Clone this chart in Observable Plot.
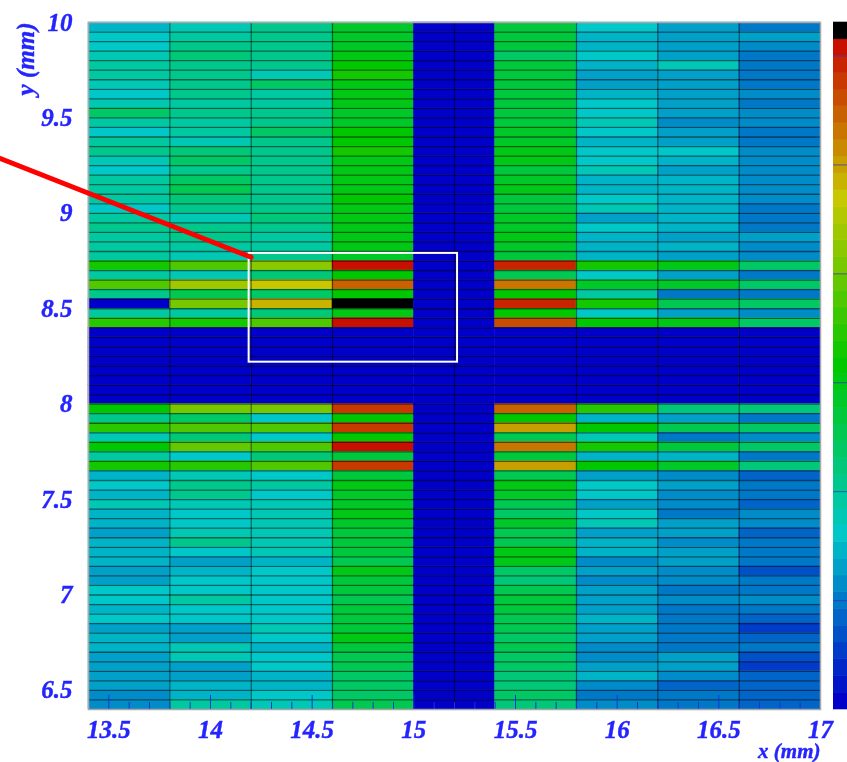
<!DOCTYPE html>
<html>
<head>
<meta charset="utf-8">
<script src="https://cdn.jsdelivr.net/npm/d3@7"></script>
<script src="https://cdn.jsdelivr.net/npm/@observablehq/plot@0.6"></script>
<style>
html,body{margin:0;padding:0;background:#fff;overflow:hidden;width:847px;height:762px}
#wrap{position:relative;width:847px;height:762px}
#wrap svg{position:absolute;top:0;filter:blur(0.65px);overflow:hidden}
#wrap text{stroke:#2424ff;stroke-width:0.4px}
</style>
</head>
<body>
<div id="wrap"></div>
<script>
// Column edges (mm) and row size (mm)
const xEdges = [13.4,13.8,14.2,14.6,15,15.2,15.4,15.8,16.2,16.6,17];
const yTop = 10, rowStep = 0.05;
// Colour level of each cell, top row first, one list per column
const col0 = [9,10,10,11,12,12,11,10,11,15,12,10,12,13,11,10,12,12,12,10,12,13,12,12,12, 21,12,24,13,0,12,22, 0,0,0,0,0,0,0,0, 20,13,22,11,20,12,21,9,10,9,11, 9,9,8,9,9,9,8,8,10,10,9,10,8,9,9,8,8,8,8,7,7];
const col1 = [11,12,13,14,13,13,13,13,12,13,12,12,11,14,15,13,15,16,14,13,11,13,13,12,11, 24,11,28,16,26,12,21, 0,0,0,0,0,0,0,0, 26,15,24,14,25,10,22,11,13,13,11, 10,10,11,13,10,8,9,10,10,12,10,10,8,8,11,11,8,8,9,9,12];
const col2 = [13,13,13,13,13,11,15,12,12,13,13,15,13,13,13,13,13,13,13,13,14,13,12,12,13, 27,14,30,15,31,14,24, 0,0,0,0,0,0,0,0, 26,10,24,10,24,14,24,10,12,10,11, 11,11,11,11,11,9,10,10,10,10,10,10,11,10,9,10,10,9,9,10,11];
const col3 = [18,18,18,19,20,21,19,19,19,18,18,20,20,21,19,19,19,19,20,19,19,19,19,19,18, 39,20,35,20,40,19,39, 0,0,0,0,0,0,0,0, 37,20,37,20,39,17,37,17,19,18,18, 19,18,17,17,17,16,19,17,17,16,17,17,17,19,17,16,16,15,15,15,16];
const col4 = new Array(72).fill(0);
const col5 = new Array(72).fill(0);
const col6 = [17,17,17,15,17,17,17,17,17,17,17,18,18,19,19,17,18,19,17,17,18,18,19,18,17, 38,16,34,20,38,20,36, 0,0,0,0,0,0,0,0, 35,20,32,16,34,17,32,16,19,18,16, 15,18,16,16,19,19,15,14,16,17,17,16,16,15,16,15,15,14,14,15,14];
const col7 = [10,9,9,10,9,8,8,9,10,10,11,10,9,10,10,11,9,9,10,11,8,10,9,9,9, 21,10,18,12,21,10,20, 0,0,0,0,0,0,0,0, 22,9,20,11,21,9,20,8,10,10,8, 10,11,8,9,9,7,8,7,8,8,8,9,8,8,7,7,8,9,7,6,7];
const col8 = [8,8,8,8,11,8,8,8,8,8,7,8,8,10,9,8,9,9,9,9,9,9,8,9,8, 19,8,18,6,16,8,19, 0,0,0,0,0,0,0,0, 14,8,16,6,17,9,18,7,8,7,7, 6,8,8,7,8,8,7,7,6,7,6,6,6,6,6,8,8,7,5,6,6];
const col9 = [6,8,7,6,6,6,6,7,6,7,7,6,6,7,7,7,7,7,7,6,6,6,8,7,7, 15,6,15,6,15,7,15, 0,0,0,0,0,0,0,0, 14,6,15,7,15,6,14,5,6,6,5, 7,7,5,6,6,6,4,6,6,7,6,5,3,5,6,4,3,5,5,5,5];
const columns = [col0,col1,col2,col3,col4,col5,col6,col7,col8,col9];
// Axis ticks
const xLabels = [13.5,14,14.5,15,15.5,16,16.5,17];
const yLabels = [6.5,7,7.5,8,8.5,9,9.5,10];
const xMinor = [13.6,13.7,13.8,13.9,14.1,14.2,14.3,14.4,14.6,14.7,14.8,14.9,15.1,15.2,15.3,15.4,15.6,15.7,15.8,15.9,16.1,16.2,16.3,16.4,16.6,16.7,16.8,16.9];
const colGridLines = [13.8,14.2,14.6,15.2,15.8,16.2,16.6];
// Overlay annotation, in mm
const zoomBox = {x1:14.19, x2:15.215, y1:8.22, y2:8.79};
const pointerX = [12.96,14.2];
const pointerY = [9.29,8.77];
// Colour bar
const barTicks = [6.5,13,19.5,26,32.5,39];
const paletteStops = ["#0000c8","#00c8c8","#00c800","#c8c800","#c81000"];
const paletteLevels = [0,10,20,30,39];

const levelColor = d3.scaleLinear().domain(paletteLevels).range(paletteStops);
const palette = d3.range(40).map(l => levelColor(l)).concat(["#000000"]);
const thresholds = d3.range(1,41);
const cells = [];
columns.forEach((col,c) => col.forEach((v,r) => cells.push({
  x1:xEdges[c], x2:xEdges[c+1], y2:yTop-r*rowStep, y1:yTop-(r+1)*rowStep, v
})));
const rowLines = d3.range(1,72).map(r => yTop-r*rowStep);
const blue = "#2424ff";
const font = {fontFamily:"'Liberation Serif',serif",fontStyle:"italic",fontWeight:"bold",fontSize:"25px"};

const chart = Plot.plot({
  width:847, height:762,
  marginLeft:88, marginRight:27, marginTop:22, marginBottom:53,
  style:{background:"transparent",...font},
  x:{domain:[13.4,17]},
  y:{domain:[6.4,10]},
  color:{type:"threshold",domain:thresholds,range:palette},
  marks:[
    Plot.rect(cells,{x1:"x1",x2:"x2",y1:"y1",y2:"y2",fill:"v",stroke:"v",strokeWidth:0.5}),
    Plot.ruleY(rowLines,{stroke:"#000",strokeOpacity:0.5,strokeWidth:1.3}),
    Plot.ruleX(colGridLines,{stroke:"#000",strokeOpacity:0.5,strokeWidth:1.2}),
    Plot.ruleX(xLabels,{y1:6.4,y2:6.473,stroke:"#1a30e0",strokeWidth:1}),
    Plot.ruleX(xMinor,{y1:6.4,y2:6.437,stroke:"#1a30e0",strokeWidth:1}),
    Plot.frame({stroke:"#a8a8a8",strokeWidth:1.5}),
    Plot.axisX(xLabels,{tickSize:0,tickPadding:11,label:null,fill:blue,tickFormat:d=>String(d),textAnchor:"middle",fontSize:25}),
    Plot.axisY(yLabels,{tickSize:0,tickPadding:16,label:null,fill:blue,tickFormat:d=>String(d),fontSize:25}),
    Plot.text(["x (mm)"],{x:[17],y:[6.4],dy:42,textAnchor:"end",fill:blue,fontSize:21}),
    Plot.text(["y (mm)"],{x:[13.4],y:[10],dx:-63,textAnchor:"end",rotate:-90,fill:blue,fontSize:25}),
    Plot.rect([zoomBox],{x1:"x1",x2:"x2",y1:"y1",y2:"y2",stroke:"#ffffff",strokeWidth:2,fill:"none"}),
    Plot.line(pointerX.map((x,i)=>({x,y:pointerY[i]})),{x:"x",y:"y",stroke:"#ff0000",strokeWidth:5})
  ]
});
document.getElementById("wrap").appendChild(chart);

const bar = Plot.plot({
  width:14, height:762,
  marginLeft:0, marginRight:0, marginTop:22, marginBottom:53,
  style:{background:"transparent"},
  x:{axis:null},
  y:{axis:null,domain:[0,41]},
  color:{type:"threshold",domain:thresholds,range:palette},
  marks:[
    Plot.rect(d3.range(41),{y1:d=>d,y2:d=>d+1,fill:d=>d,stroke:d=>d,strokeWidth:0.6}),
    Plot.ruleY(barTicks,{stroke:"#3030c0",strokeOpacity:0.7,strokeWidth:1})
  ]
});
bar.style.left="833px";
document.getElementById("wrap").appendChild(bar);
</script>
</body>
</html>
